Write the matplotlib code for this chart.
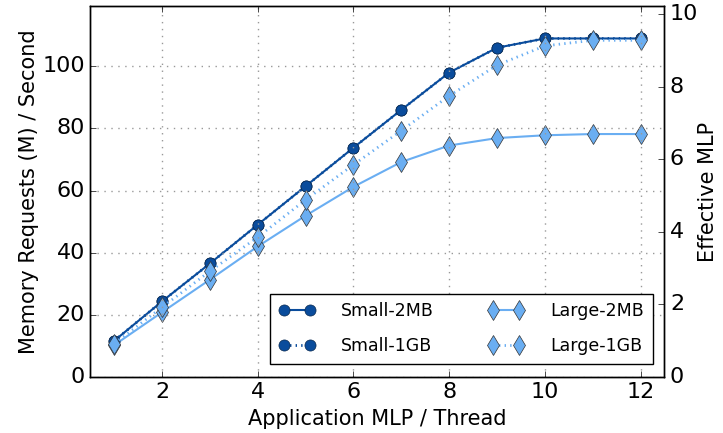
import matplotlib
matplotlib.use('Agg')
import matplotlib.pyplot as plt

# application MLP per thread
mlp = [1, 2, 3, 4, 5, 6, 7, 8, 9, 10, 11, 12]

# memory requests (M) / second
small_2mb = [11.6, 24.3, 36.5, 49.0, 61.4, 73.8, 86.0, 98.0, 106.0, 109.0, 109.0, 109.0]
small_1gb = [11.6, 24.3, 36.5, 49.0, 61.4, 73.8, 86.0, 98.0, 106.0, 109.0, 109.0, 109.0]
large_2mb = [10.2, 20.8, 31.3, 42.0, 51.9, 61.2, 69.2, 74.5, 76.9, 77.8, 78.2, 78.2]
large_1gb = [10.7, 22.4, 34.0, 45.0, 57.0, 68.3, 79.3, 90.5, 100.4, 106.6, 108.4, 108.4]

dark = '#0a4c9c'
light = '#6aaef2'

plt.style.use('classic')
plt.rcParams['font.family'] = 'DejaVu Sans'

fig = plt.figure(figsize=(7.23, 4.33), dpi=100)
ax = fig.add_axes([0.125, 0.13, 0.794, 0.855])
ax.set_facecolor('white')
fig.patch.set_facecolor('white')

ax.plot(mlp, small_2mb, '-', color=dark, marker='o', markersize=8,
        markerfacecolor=dark, markeredgecolor='#0a2a50', lw=1.5, label='Small-2MB')
ax.plot(mlp, large_2mb, '-', color=light, marker='d', markersize=10.5,
        markerfacecolor=light, markeredgecolor='#333333', lw=1.5, label='Large-2MB')
ax.plot(mlp, small_1gb, ':', color=dark, marker='o', markersize=8,
        markerfacecolor=dark, markeredgecolor='#0a2a50', lw=2, label='Small-1GB')
ax.plot(mlp, large_1gb, ':', color=light, marker='d', markersize=10.5,
        markerfacecolor=light, markeredgecolor='#333333', lw=2, label='Large-1GB')

ax.set_xlim(0.5, 12.5)
ax.set_ylim(0, 119.3)
ax.set_xticks([2, 4, 6, 8, 10, 12])
ax.set_yticks([0, 20, 40, 60, 80, 100])
ax.grid(True, color='0.6', linestyle=(0, (1, 4)), lw=1)
ax.tick_params(labelsize=16, direction='in', right=False)
ax.set_xlabel('Application MLP / Thread', fontsize=15)
ax.set_ylabel('Memory Requests (M) / Second', fontsize=15, labelpad=2)

ax2 = ax.twinx()
ax2.set_ylim(0, 10.22)
ax2.set_yticks([0, 2, 4, 6, 8, 10])
ax2.tick_params(labelsize=16, direction='in')
ax2.set_ylabel('Effective MLP', fontsize=15, labelpad=0)

h, l = ax.get_legend_handles_labels()
order = [0, 2, 1, 3]
ax.legend([h[i] for i in order], [l[i] for i in order], loc='lower right',
          ncol=2, numpoints=2, fontsize=12.5, frameon=True, fancybox=False,
          handlelength=2.1, columnspacing=3.1, borderpad=0.5, labelspacing=0.95,
          handletextpad=1.5, bbox_to_anchor=(0.995, 0.012))

fig.savefig('out.png', dpi=100, facecolor='white')
